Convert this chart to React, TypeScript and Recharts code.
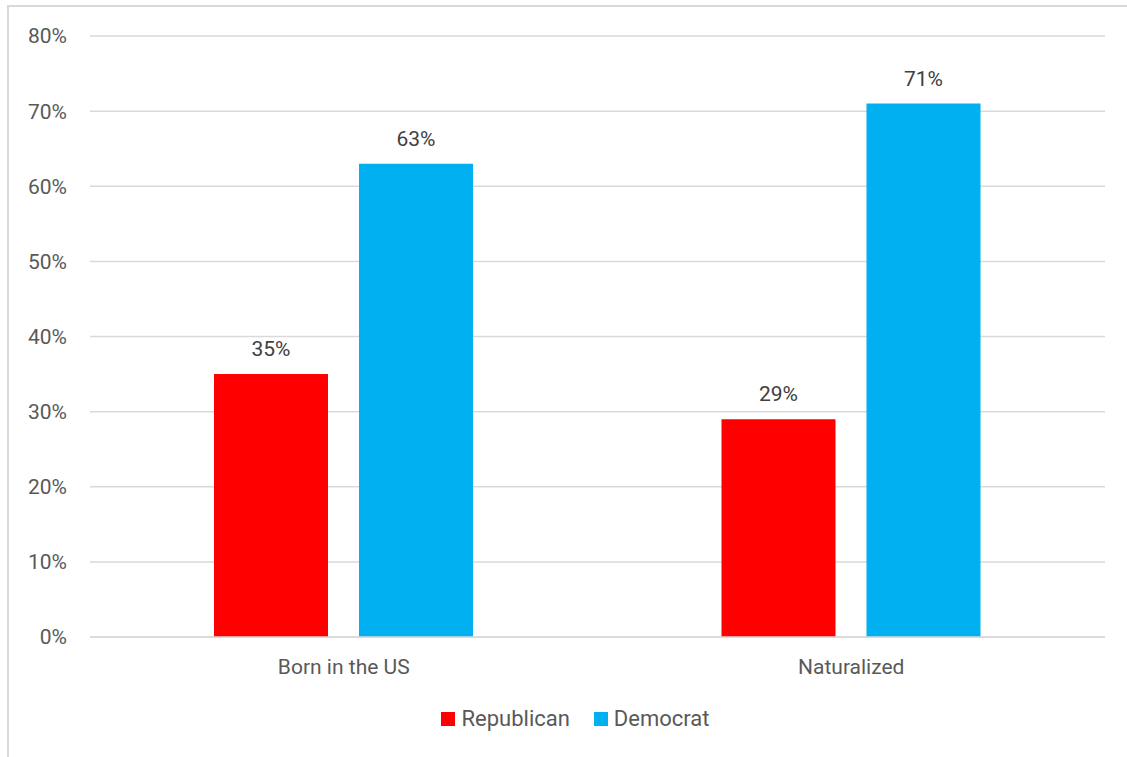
import { Bar, BarChart, CartesianGrid, LabelList, Legend, XAxis, YAxis } from "recharts"

const categories = ["Born in the US", "Naturalized"]
const republican = [35, 29]
const democrat = [63, 71]
const yTicks = [0, 10, 20, 30, 40, 50, 60, 70, 80]

const series = [
  { key: "republican", name: "Republican", color: "#FF0000" },
  { key: "democrat", name: "Democrat", color: "#00B0F0" },
]

const data = categories.map((name, i) => ({
  name,
  republican: republican[i],
  democrat: democrat[i],
}))

const FONT = "Roboto, 'Noto Sans', sans-serif"

function LegendRow() {
  return (
    <div style={{ display: "flex", justifyContent: "center", fontFamily: FONT, fontSize: 22, color: "#595959" }}>
      {series.map((s, i) => (
        <div key={s.key} style={{ display: "flex", alignItems: "center", marginLeft: i ? 24 : 0 }}>
          <span style={{ width: 14, height: 14, background: s.color, marginRight: 6, display: "inline-block" }} />
          <span>{s.name}</span>
        </div>
      ))}
    </div>
  )
}

export default function App() {
  return (
    <div style={{ position: "absolute", left: 0, top: 0, width: 1127, height: 757, background: "#fff", overflow: "hidden" }}>
      <div style={{ position: "absolute", left: 7, top: 5, width: 1140, height: 770, border: "2px solid #d9d9d9" }} />
      <BarChart
        width={1127}
        height={757}
        data={data}
        margin={{ top: 36, right: 22, left: 0, bottom: 0 }}
        barSize={114}
        barGap={31}
        style={{ position: "absolute", left: 0, top: 0 }}
      >
        <CartesianGrid vertical={false} stroke="#d9d9d9" strokeWidth={1.5} />
        <XAxis
          dataKey="name"
          height={120}
          tickLine={false}
          axisLine={{ stroke: "#d9d9d9", strokeWidth: 1.5 }}
          tickSize={0}
          tickMargin={22}
          tick={{ fontFamily: FONT, fontSize: 21, fill: "#595959" }}
        />
        <YAxis
          width={90}
          domain={[0, 80]}
          ticks={yTicks}
          interval={0}
          axisLine={false}
          tickLine={false}
          tickSize={0}
          tickMargin={23}
          tickFormatter={(v: number) => `${v}%`}
          tick={{ fontFamily: FONT, fontSize: 21, fill: "#595959" }}
        />
        <Legend
          layout="horizontal"
          verticalAlign="middle"
          align="center"
          wrapperStyle={{ top: 706, left: 12, width: 1127 }}
          content={() => <LegendRow />}
        />
        {series.map((s) => (
          <Bar key={s.key} dataKey={s.key} name={s.name} fill={s.color} isAnimationActive={false}>
            <LabelList
              dataKey={s.key}
              position="top"
              offset={18}
              formatter={(v: number) => `${v}%`}
              style={{ fontFamily: FONT, fontSize: 21, fill: "#404040" }}
            />
          </Bar>
        ))}
      </BarChart>
    </div>
  )
}
